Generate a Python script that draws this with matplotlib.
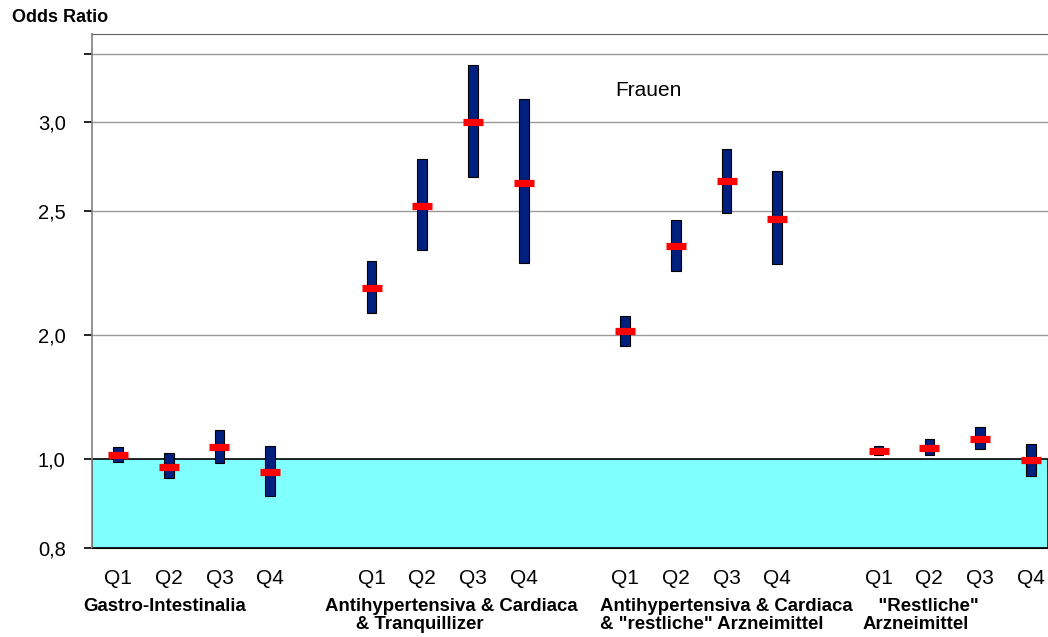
import numpy as np
import matplotlib.pyplot as plt

plt.rcParams['font.family'] = ['Liberation Sans', 'DejaVu Sans']

# Odds Ratios (Frauen) mit Konfidenzintervallen, je Quartil und Arzneimittelgruppe
gruppen = ['Gastro-Intestinalia',
           'Antihypertensiva & Cardiaca\n      & Tranquillizer',
           'Antihypertensiva & Cardiaca\n& "restliche" Arzneimittel',
           '   "Restliche"\nArzneimittel']
quartile = ['Q1', 'Q2', 'Q3', 'Q4']

odds = [1.03, 0.983, 1.094, 0.970,
        2.19, 2.53, 3.00, 2.66,
        2.015, 2.358, 2.667, 2.469,
        1.062, 1.086, 1.161, 0.997]
ci_unten = [0.993, 0.957, 0.990, 0.917,
            2.09, 2.344, 2.69, 2.29,
            1.914, 2.26, 2.493, 2.285,
            1.03, 1.03, 1.083, 0.962]
ci_oben = [1.099, 1.05, 1.236, 1.102,
           2.30, 2.79, 3.42, 3.17,
           2.077, 2.464, 2.85, 2.725,
           1.107, 1.159, 1.256, 1.119]

# Achsenteilung: ungleichmaessige Abstaende zwischen den Teilstrichen
achs_werte = [0.5, 0.8, 1.0, 2.0, 2.5, 3.0, 3.5, 4.0]
achs_pos = [-133.5, 0, 89, 213, 337, 426, 494, 562]
y_ticks = [0.8, 1.0, 2.0, 2.5, 3.0, 3.5]
y_labels = ['0,8', '1,0', '2,0', '2,5', '3,0', '']


def vorwaerts(v):
    return np.interp(v, achs_werte, achs_pos)


def rueckwaerts(p):
    return np.interp(p, achs_pos, achs_werte)


# x-Positionen: 4 Quartile je Gruppe, Luecke von einer Stelle dazwischen
x = np.array([g * 5 + q for g in range(len(gruppen)) for q in range(len(quartile))])
odds = np.array(odds)
ci_unten = np.array(ci_unten)
ci_oben = np.array(ci_oben)

fig = plt.figure(figsize=(10.48, 6.37), dpi=100)
ax = fig.add_axes([0.0878, 0.1397, 0.9122, 0.8077])
ax.set_yscale('function', functions=(vorwaerts, rueckwaerts))
ax.set_ylim(0.8, 3.651)
ax.set_xlim(-0.513, 18.34)

ax.axhspan(0.8, 1.0, facecolor='#80FFFF', edgecolor='black', lw=1.2, zorder=1)
for yt in y_ticks[2:]:
    ax.axhline(yt, color='#999999', lw=1, zorder=0)

ax.bar(x, ci_oben - ci_unten, bottom=ci_unten, width=0.19,
       color='#00207F', edgecolor='black', lw=0.8, zorder=3)
ax.plot(x, odds, ls='none', marker='_', markersize=14.5,
        markeredgewidth=5.2, color='#FF0000', zorder=4)

ax.set_yticks(y_ticks)
ax.set_yticklabels(y_labels, fontsize=14.5)
ax.yaxis.set_minor_locator(plt.NullLocator())
ax.tick_params(axis='y', length=6, width=1.2, color='black', pad=13)

ax.set_xticks(x)
ax.set_xticklabels(quartile * len(gruppen), fontsize=15)
ax.tick_params(axis='x', length=0, pad=15)

ax.spines['right'].set_visible(False)
ax.spines['left'].set_color('#808080')
ax.spines['left'].set_linewidth(1.2)
ax.spines['top'].set_color('#606060')
ax.spines['bottom'].set_color('black')

# Gruppenbeschriftungen unter den Quartilen
gruppen_x = [-0.69, 4.08, 9.51, 14.69]
for gx, name in zip(gruppen_x, gruppen):
    ax.annotate(name, xy=(gx, 0), xycoords=('data', 'axes fraction'),
                xytext=(0, -36), textcoords='offset points',
                ha='left', va='top', fontsize=13.4, fontweight='bold',
                linespacing=1.05)

ax.text(0.547, 0.89, 'Frauen', transform=ax.transAxes,
        ha='left', va='center', fontsize=15)
fig.text(0.011, 0.973, 'Odds Ratio', ha='left', va='center',
         fontsize=13, fontweight='bold')

fig.savefig('out.png', dpi=100)
